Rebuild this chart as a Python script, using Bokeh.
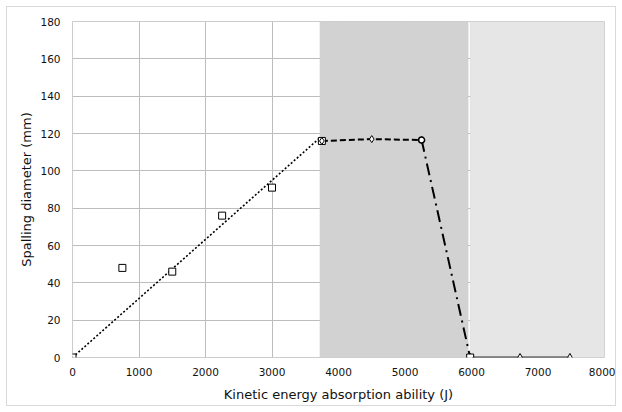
from bokeh.plotting import figure
from bokeh.models import BoxAnnotation, FixedTicker, Range1d
from bokeh.embed import file_html
from bokeh.resources import INLINE

# Data
sq_x = [0, 750, 1500, 2250, 3000, 3750]
sq_y = [0, 48, 46, 76, 91, 116]
trend_x = [0, 3730]
trend_y = [0, 118]
dia_x = [3750, 4500, 5250]
dia_y = [116, 117, 116.5]
drop_x = [5250, 5980]
drop_y = [116.5, 0]
circ_x = [5250]
circ_y = [116.5]
tri_x = [5980, 6730, 7480]
tri_y = [0, 0, 0]
end_sq_x = [5980]
end_sq_y = [0]
zone_dark = (3720, 5950)
zone_light = (5980, 8000)
x_ticks = [0, 1000, 2000, 3000, 4000, 5000, 6000, 7000, 8000]
y_ticks = [0, 20, 40, 60, 80, 100, 120, 140, 160, 180]

FONT = "DejaVu Sans"

p = figure(width=610, height=400, output_backend="svg", toolbar_location=None,
           x_range=Range1d(0, 8000), y_range=Range1d(0, 180),
           min_border_left=65, min_border_right=13, min_border_top=14, min_border_bottom=50)
p.styles = {"margin-left": "6px", "margin-top": "6px", "border": "1px solid #d9d9d9"}
p.outline_line_color = "#cccccc"
p.border_fill_color = "white"

p.add_layout(BoxAnnotation(left=zone_dark[0], right=zone_dark[1], fill_color="#d2d2d2", fill_alpha=1.0, level="underlay"))
p.add_layout(BoxAnnotation(left=zone_light[0], right=zone_light[1], fill_color="#e6e6e6", fill_alpha=1.0, level="underlay"))

p.xgrid.grid_line_color = "#bdbdbd"
p.ygrid.grid_line_color = "#bdbdbd"
p.xgrid.level = "image"
p.ygrid.level = "image"

p.xaxis.ticker = FixedTicker(ticks=x_ticks)
p.yaxis.ticker = FixedTicker(ticks=y_ticks)
for ax in (p.xaxis[0], p.yaxis[0]):
    ax.axis_line_color = None
    ax.major_tick_line_color = None
    ax.minor_tick_line_color = None
    ax.major_label_text_font = FONT
    ax.major_label_text_font_size = "10.5px"
    ax.major_label_text_color = "#111111"
    ax.axis_label_text_font = FONT
    ax.axis_label_text_font_size = "13px"
    ax.axis_label_text_font_style = "normal"
    ax.axis_label_text_color = "#111111"
p.xaxis.axis_label = "Kinetic energy absorption ability (J)"
p.yaxis.axis_label = "Spalling diameter (mm)"
p.xaxis.major_label_standoff = 4
p.yaxis.major_label_standoff = 6
p.xaxis.axis_label_standoff = 8
p.yaxis.axis_label_standoff = 3

p.line(trend_x, trend_y, line_color="black", line_width=1.6, line_dash="2 2")
p.line(dia_x, dia_y, line_color="black", line_width=2, line_dash="6 3")
p.line(drop_x, drop_y, line_color="black", line_width=2, line_dash="12 5 2 5")
p.line(tri_x, tri_y, line_color="#333333", line_width=2)

p.scatter(sq_x, sq_y, marker="square", size=7, fill_color="white", line_color="black", line_width=1)
p.scatter(dia_x, dia_y, marker="diamond", size=7, fill_color="white", line_color="black", line_width=1)
p.scatter(circ_x, circ_y, marker="circle", size=6, fill_color="white", line_color="black", line_width=1.5)
p.scatter(tri_x, tri_y, marker="triangle", size=7, fill_color="white", line_color="black", line_width=1)
p.scatter(end_sq_x, end_sq_y, marker="square", size=7, fill_color="white", line_color="black", line_width=1)

open("out.html", "w").write(file_html(p, INLINE))
